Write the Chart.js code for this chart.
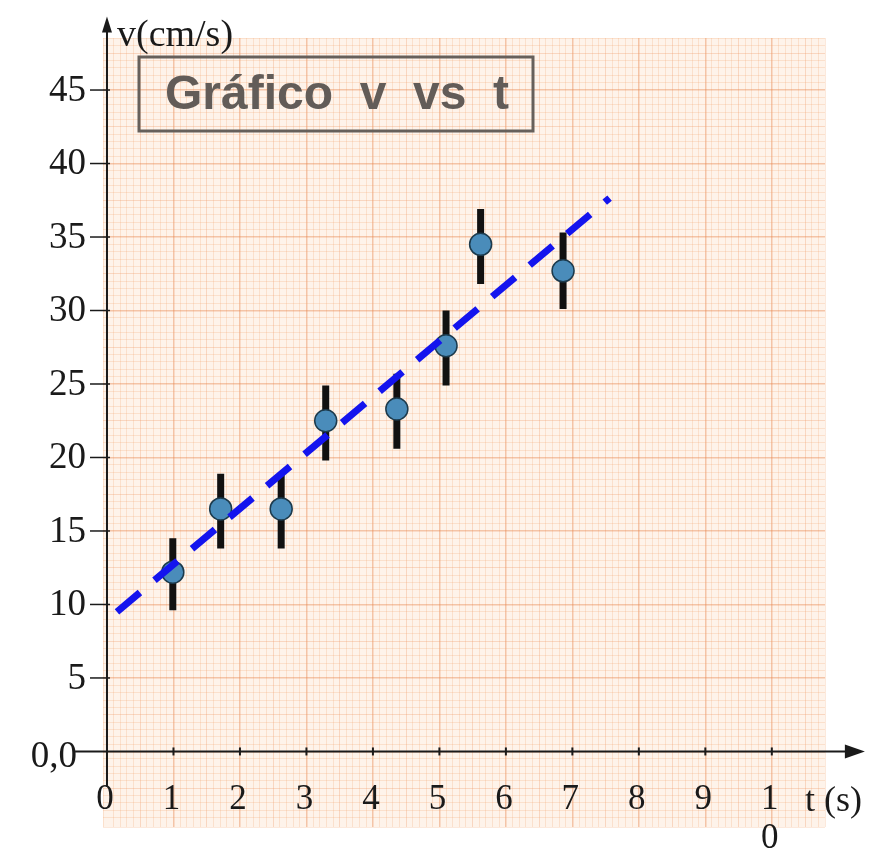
<!DOCTYPE html>
<html>
<head>
<meta charset="utf-8">
<script src="https://cdn.jsdelivr.net/npm/chart.js@4/dist/chart.umd.min.js"></script>
<style>
  html, body { margin: 0; padding: 0; background: #ffffff; }
  canvas { display: block; }
</style>
</head>
<body>
<canvas id="c" width="875" height="857"></canvas>
<script>
// ---- data ----
const timeS   = [0.99, 1.71, 2.62, 3.29, 4.36, 5.10, 5.62, 6.86];
const speed   = [12.2, 16.5, 16.5, 22.5, 23.3, 27.6, 34.5, 32.7];
const errLow  = [9.6, 13.8, 13.8, 19.8, 20.6, 24.9, 31.8, 30.1];
const errHigh = [14.5, 18.9, 18.9, 24.9, 25.7, 30.0, 36.9, 35.3];
const fitT = [0.15, 7.56];
const fitV = [9.5, 37.65];
const yTickValues = [5, 10, 15, 20, 25, 30, 35, 40, 45];
const xTickValues = [0, 1, 2, 3, 4, 5, 6, 7, 8, 9, 10];
const xTickLabels = ['0', '1', '2', '3', '4', '5', '6', '7', '8', '9', '1\n0'];
const titleText = 'Gráfico  v  vs  t';
const yAxisTitle = 'v(cm/s)';
const xAxisTitle = 't (s)';
const originLabel = '0,0';

// ---- build datasets ----
const pointData = timeS.map((t, i) => ({ x: t, y: speed[i] }));
const errData = [];
timeS.forEach((t, i) => {
  errData.push({ x: t, y: errLow[i] });
  errData.push({ x: t, y: errHigh[i] });
  errData.push({ x: t, y: null });
});
const fitData = fitT.map((t, i) => ({ x: t, y: fitV[i] }));

function near(v, m) { return Math.abs(v / m - Math.round(v / m)) < 1e-6; }

const MAJOR = 'rgba(232,130,75,0.42)';
const MEDIUM = 'rgba(238,150,95,0.30)';
const MINOR = 'rgba(242,165,110,0.24)';

const paperPlugin = {
  id: 'paper',
  beforeDraw(chart) {
    const { ctx, chartArea: a } = chart;
    ctx.save();
    ctx.fillStyle = '#fef3ea';
    ctx.fillRect(a.left, a.top, a.right - a.left, a.bottom - a.top);
    ctx.restore();
  }
};

const axesPlugin = {
  id: 'axesDraw',
  afterDatasetsDraw(chart) {
    const { ctx } = chart;
    const xs = chart.scales.x, ys = chart.scales.y;
    const x0 = xs.getPixelForValue(0), y0 = ys.getPixelForValue(0);
    const yTop = ys.getPixelForValue(50), yBot = ys.getPixelForValue(-2.4);
    const xLeft = xs.getPixelForValue(-0.48), xRight = xs.getPixelForValue(11.4);
    ctx.save();
    ctx.strokeStyle = '#1a1a1a';
    ctx.fillStyle = '#1a1a1a';
    ctx.lineWidth = 2;
    // y axis
    ctx.beginPath();
    ctx.moveTo(x0, yBot); ctx.lineTo(x0, yTop + 14); ctx.stroke();
    ctx.beginPath();
    ctx.moveTo(x0, yTop); ctx.lineTo(x0 - 5, yTop + 16); ctx.lineTo(x0 + 5, yTop + 16); ctx.closePath(); ctx.fill();
    // x axis
    ctx.beginPath();
    ctx.moveTo(xLeft, y0); ctx.lineTo(xRight - 16, y0); ctx.stroke();
    ctx.beginPath();
    ctx.moveTo(xRight, y0); ctx.lineTo(xRight - 20, y0 - 7); ctx.lineTo(xRight - 20, y0 + 7); ctx.closePath(); ctx.fill();

    // y ticks + labels
    ctx.lineWidth = 1.5;
    ctx.font = '37px "Liberation Serif", serif';
    ctx.textAlign = 'right';
    ctx.textBaseline = 'middle';
    yTickValues.forEach(v => {
      const p = ys.getPixelForValue(v);
      ctx.beginPath(); ctx.moveTo(x0 - 17, p); ctx.lineTo(x0 + 3, p); ctx.stroke();
      ctx.fillText(String(v), x0 - 21, p + 1);
    });
    ctx.fillText(originLabel, x0 - 30, y0 + 6);

    // x ticks + labels
    ctx.textAlign = 'center';
    ctx.font = '35px "Liberation Serif", serif';
    xTickValues.forEach((v, i) => {
      const p = xs.getPixelForValue(v);
      if (v !== 0) {
        ctx.lineWidth = 2;
        ctx.beginPath(); ctx.moveTo(p, y0 - 4); ctx.lineTo(p, y0 + 4); ctx.stroke();
      }
      const lines = xTickLabels[i].split('\n');
      lines.forEach((s, k) => ctx.fillText(s, p - 2, y0 + 48 + k * 39));
    });

    // axis titles
    ctx.font = '38px "Liberation Serif", serif';
    ctx.textAlign = 'left';
    ctx.fillText(yAxisTitle, x0 + 10, yTop + 19);
    ctx.font = '36px "Liberation Serif", serif';
    ctx.fillText(xAxisTitle, xs.getPixelForValue(10.5), y0 + 50);

    // title box
    ctx.strokeStyle = '#66605b';
    ctx.lineWidth = 3;
    ctx.strokeRect(139, 57, 394, 74);
    ctx.fillStyle = '#625c58';
    ctx.font = 'bold 48px "Liberation Sans", Arial, sans-serif';
    ctx.textAlign = 'center';
    ctx.fillText(titleText, 337, 96);
    ctx.restore();
  }
};

new Chart(document.getElementById('c'), {
  type: 'scatter',
  data: {
    datasets: [
      {
        type: 'line',
        label: 'ajuste',
        data: fitData,
        borderColor: '#1414ee',
        borderWidth: 7,
        borderDash: [30, 19],
        borderCapStyle: 'butt',
        pointRadius: 0,
        fill: false
      },
      {
        label: 'v',
        data: pointData,
        pointRadius: 11,
        pointBackgroundColor: '#4a8cba',
        pointBorderColor: '#1c3a4c',
        pointBorderWidth: 1.5
      },
      {
        type: 'line',
        label: 'erro',
        data: errData,
        borderColor: '#111111',
        borderWidth: 7,
        borderCapStyle: 'butt',
        spanGaps: false,
        pointRadius: 0,
        fill: false
      }
    ]
  },
  options: {
    responsive: false,
    animation: false,
    layout: { padding: { left: 103, top: 38, right: 50, bottom: 30 } },
    plugins: { legend: { display: false }, tooltip: { enabled: false }, title: { display: false } },
    scales: {
      x: {
        type: 'linear',
        min: -0.06, max: 10.8,
        offset: false,
        border: { display: false },
        ticks: { display: false, stepSize: 0.1, autoSkip: false },
        grid: {
          drawTicks: false,
          color: c => near(c.tick.value, 1) ? MAJOR : near(c.tick.value, 0.5) ? MEDIUM : MINOR,
          lineWidth: c => near(c.tick.value, 1) ? 1.5 : 1
        }
      },
      y: {
        type: 'linear',
        min: -5.14, max: 48.54,
        border: { display: false },
        ticks: { display: false, stepSize: 0.5, autoSkip: false },
        grid: {
          drawTicks: false,
          color: c => near(c.tick.value, 5) ? MAJOR : near(c.tick.value, 2.5) ? MEDIUM : MINOR,
          lineWidth: c => near(c.tick.value, 5) ? 1.5 : 1
        }
      }
    }
  },
  plugins: [paperPlugin, axesPlugin]
});
</script>
</body>
</html>
